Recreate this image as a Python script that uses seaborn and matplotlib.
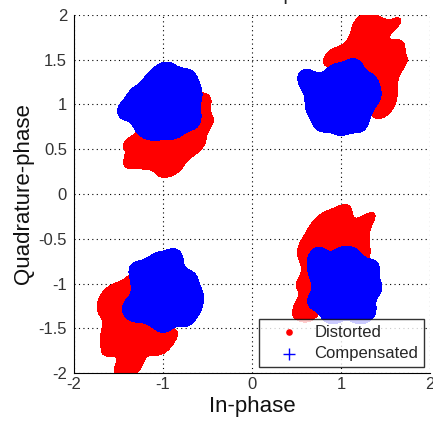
import numpy as np
import pandas as pd
import seaborn as sns
from matplotlib import pyplot as plt
from matplotlib.colors import ListedColormap

# points (in-phase, quadrature), one cloud per symbol
distorted_pts = [
    # near (-1, 1)
    (-0.95, 1.15), (-0.80, 1.20), (-0.72, 1.30), (-0.68, 1.05), (-0.62, 0.95), (-0.60, 0.85),
    (-0.70, 0.75), (-0.78, 0.60), (-0.85, 0.50), (-0.95, 0.40), (-0.97, 0.30), (-1.05, 0.45),
    (-1.12, 0.55), (-1.20, 0.65), (-1.15, 0.80), (-1.05, 0.90), (-0.90, 0.85), (-0.85, 0.70),
    (-0.95, 0.65), (-1.00, 0.55), (-0.88, 0.55), (-1.08, 0.72), (-0.75, 0.92), (-0.82, 1.05),
    (-0.93, 0.35), (-0.72, 0.50), (-0.68, 0.62),
    (-1.40, 0.57), (-1.35, 0.38), (-1.30, 0.42), (-0.49, 0.79), (-0.55, 1.02), (-0.60, 0.55),
    (-1.17, 0.35), (-0.85, 0.30),
    # near (1, 1)
    (1.30, 1.45), (1.20, 1.60), (1.35, 1.75), (1.25, 1.85), (1.40, 1.60), (1.50, 1.45),
    (1.45, 1.25), (1.40, 1.10), (1.48, 1.05), (1.15, 1.40), (1.10, 1.55), (1.25, 1.30),
    (1.35, 1.30), (1.55, 1.60), (1.45, 1.80), (1.20, 1.25), (1.30, 1.15), (1.15, 1.70),
    (1.55, 1.30), (1.38, 1.90), (1.10, 1.30),
    (1.63, 1.92), (0.88, 1.53), (0.95, 1.52), (1.69, 1.47), (1.63, 1.62), (1.46, 0.94),
    (1.53, 1.14), (1.50, 0.98), (1.22, 1.93),
    # near (-1, -1)
    (-1.35, -1.45), (-1.20, -1.00), (-1.25, -1.15), (-1.40, -1.20), (-1.50, -1.30), (-1.55, -1.50),
    (-1.50, -1.70), (-1.40, -1.85), (-1.30, -1.75), (-1.20, -1.60), (-1.12, -1.50), (-1.10, -1.35),
    (-1.15, -1.20), (-1.30, -1.30), (-1.45, -1.60), (-1.35, -1.60), (-1.25, -1.45), (-1.05, -1.55),
    (-1.10, -1.68), (-1.55, -1.38), (-1.42, -1.05), (-1.30, -0.95), (-1.38, -1.90),
    (-0.90, -1.58), (-1.65, -1.28), (-1.63, -1.15), (-1.56, -1.10), (-1.60, -1.55), (-1.45, -1.97),
    (-1.33, -1.95), (-1.62, -1.72), (-1.00, -1.72), (-1.22, -0.85),
    # near (1, -1)
    (0.92, -0.72), (0.95, -0.35), (1.05, -0.40), (0.85, -0.45), (0.80, -0.60), (1.10, -0.55),
    (1.18, -0.65), (0.70, -0.80), (0.68, -0.95), (0.75, -1.10), (0.72, -1.25), (1.00, -0.60),
    (0.90, -0.55), (0.82, -0.85), (1.00, -0.85), (1.10, -0.85), (0.65, -0.72), (0.75, -0.50),
    (1.15, -0.45), (0.90, -1.00), (0.68, -1.15), (0.98, -0.30), (0.72, -0.40), (1.20, -0.40),
    (0.62, -0.62), (1.22, -0.55), (0.88, -0.30),
    (1.02, -0.20), (1.33, -0.26), (0.79, -0.30), (0.54, -1.30), (0.56, -0.99), (0.63, -0.55),
    (1.25, -0.72), (0.60, -1.20), (0.65, -1.35),
]

compensated_pts = [
    # near (-1, 1)
    (-0.98, 1.05), (-1.10, 1.10), (-0.85, 1.00), (-1.00, 1.20), (-0.95, 0.90), (-1.15, 0.95),
    (-0.82, 1.15), (-1.12, 1.22), (-0.85, 0.88), (-1.05, 0.85), (-1.20, 1.05), (-0.78, 1.05),
    (-0.90, 1.25), (-1.05, 1.30), (-0.92, 0.80), (-1.18, 0.85), (-0.80, 0.85), (-0.78, 1.25),
    (-1.43, 0.92), (-1.32, 0.98), (-1.28, 1.10), (-1.22, 0.78), (-1.05, 0.72), (-0.88, 0.72),
    (-0.70, 0.95), (-0.65, 1.12), (-0.72, 1.28), (-0.95, 1.38), (-1.15, 0.73), (-0.67, 0.82),
    # near (1, 1)
    (1.03, 1.09), (0.90, 1.10), (1.15, 1.05), (1.00, 1.25), (1.05, 0.92), (0.85, 0.98),
    (1.20, 1.20), (0.88, 1.25), (1.18, 0.90), (0.80, 1.15), (1.25, 1.05), (1.00, 0.85),
    (1.10, 1.32), (0.92, 0.88), (0.95, 1.35), (1.22, 0.95),
    (0.60, 1.30), (0.68, 1.22), (1.36, 1.10), (0.70, 0.95), (1.15, 1.42), (0.78, 0.78),
    (1.00, 0.75), (1.20, 0.78), (0.72, 1.08), (1.32, 1.25),
    # near (-1, -1)
    (-1.02, -1.08), (-1.15, -1.00), (-0.90, -1.10), (-1.00, -0.90), (-1.05, -1.25), (-1.20, -1.15),
    (-0.85, -0.95), (-0.88, -1.25), (-1.15, -0.85), (-0.80, -1.10), (-1.22, -1.30), (-0.95, -1.35),
    (-1.10, -1.35), (-0.92, -0.82), (-1.25, -1.02), (-0.78, -1.25),
    (-0.87, -0.70), (-0.64, -1.13), (-0.67, -1.26), (-0.75, -1.39), (-1.31, -1.26), (-1.35, -1.30),
    (-1.05, -0.75), (-1.30, -0.85), (-1.00, -1.45), (-0.70, -0.95),
    # near (1, -1)
    (1.02, -1.00), (0.90, -1.00), (1.15, -0.95), (1.00, -0.85), (1.05, -1.15), (0.85, -1.15),
    (1.20, -1.10), (0.88, -0.85), (1.15, -0.80), (0.80, -1.00), (1.25, -0.95), (0.95, -1.25),
    (1.10, -1.25), (0.78, -0.90), (1.22, -1.20), (0.90, -1.30),
    (1.35, -0.82), (1.30, -1.30), (0.75, -0.68), (0.90, -1.33), (1.12, -0.70), (1.00, -0.70),
    (0.70, -1.20), (1.38, -1.05), (1.20, -1.35), (0.72, -0.80),
]

x_ticks = [-2, -1, 0, 1, 2]
y_ticks = [-2, -1.5, -1, -0.5, 0, 0.5, 1, 1.5, 2]

dist = pd.DataFrame(distorted_pts, columns=["I", "Q"])
comp = pd.DataFrame(compensated_pts, columns=["I", "Q"])

sns.set_theme(style="white")
plt.rcParams["font.family"] = ["Liberation Sans", "DejaVu Sans"]

fig = plt.figure(figsize=(4.33, 4.24), dpi=100)
ax = fig.add_axes([0.171, 0.120, 0.822, 0.845])

# dense part of each cloud, then the single points on top
sns.kdeplot(data=dist, x="I", y="Q", fill=True, levels=[0.13, 1], bw_adjust=0.18,
            gridsize=300, cmap=ListedColormap(["#ff0000"]), ax=ax)
sns.scatterplot(data=dist, x="I", y="Q", color="#ff0000", marker="o", s=16,
                linewidth=0, label="Distorted", ax=ax)
sns.kdeplot(data=comp, x="I", y="Q", fill=True, levels=[0.09, 1], bw_adjust=0.18,
            gridsize=300, cmap=ListedColormap(["#0000ff"]), ax=ax)
sns.scatterplot(data=comp, x="I", y="Q", color="#0000ff", marker="+", s=60,
                linewidth=1.0, label="Compensated", ax=ax)

ax.set_xlim(-2, 2)
ax.set_ylim(-2, 2)
ax.set_xticks(x_ticks)
ax.set_xticklabels([f"{t:g}" for t in x_ticks])
ax.set_yticks(y_ticks)
ax.set_yticklabels([f"{t:g}" for t in y_ticks])
ax.tick_params(labelsize=12, colors="#333333", direction="in", length=3)
ax.tick_params(axis="x", pad=3)
ax.tick_params(axis="y", pad=5)
ax.grid(True, color="black", linestyle=(0, (1, 3)), linewidth=0.8)
ax.set_axisbelow(True)
for side in ["top", "right"]:
    ax.spines[side].set_visible(False)
for side in ["left", "bottom"]:
    ax.spines[side].set_color("black")
    ax.spines[side].set_linewidth(0.8)

ax.set_xlabel("In-phase", fontsize=16, labelpad=3, color="#111111")
ax.set_ylabel("Quadrature-phase", fontsize=16, labelpad=3, color="#111111")

leg = ax.legend(loc="lower right", fontsize=12, frameon=True, fancybox=False,
                borderaxespad=0.35, borderpad=0.35, labelspacing=0.4,
                handlelength=3.0, handletextpad=0.0, markerscale=1.2)
leg.get_frame().set_edgecolor("black")
leg.get_frame().set_linewidth(1.0)

# title sits above the visible area, only its descender shows
fig.text(0.612, 1.0, "Scatter plot", ha="center", va="baseline", fontsize=14)

fig.savefig("out.png", dpi=100)
